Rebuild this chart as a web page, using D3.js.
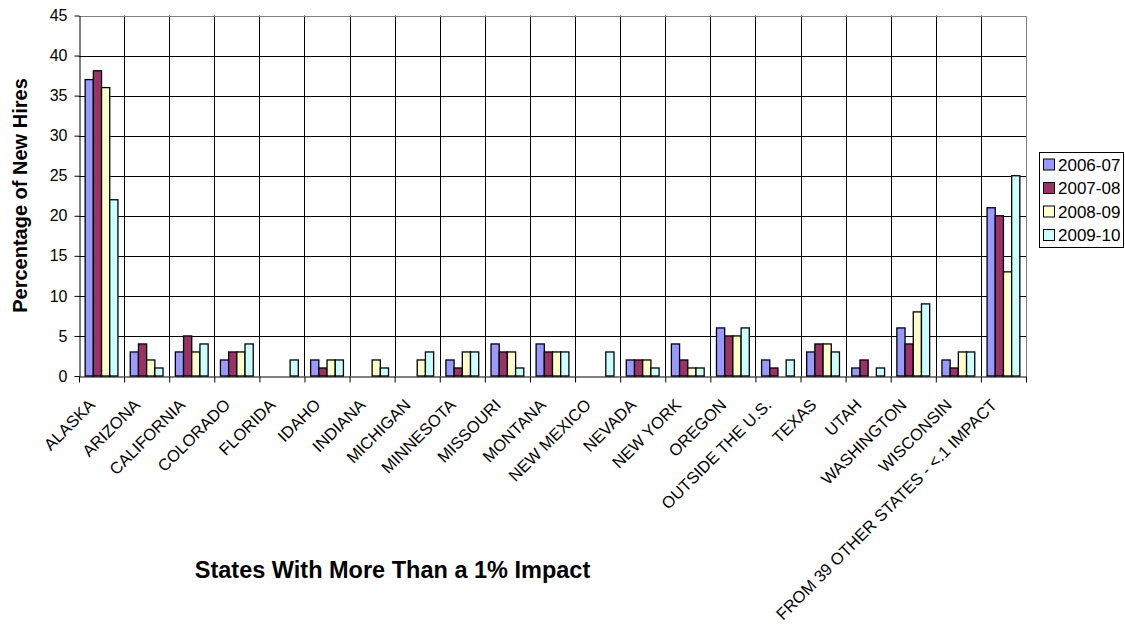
<!DOCTYPE html>
<html>
<head>
<meta charset="utf-8">
<script src="https://cdn.jsdelivr.net/npm/d3@7"></script>
<style>
  body { margin: 0; background: #fff; }
  svg { display: block; font-family: "Liberation Sans", Arial, sans-serif; }
</style>
</head>
<body>
<svg id="chart" width="1125" height="626"></svg>
<script>
// States (and the remainder group) shown along the category axis
const categories = [
  "ALASKA", "ARIZONA", "CALIFORNIA", "COLORADO", "FLORIDA", "IDAHO", "INDIANA",
  "MICHIGAN", "MINNESOTA", "MISSOURI", "MONTANA", "NEW MEXICO", "NEVADA",
  "NEW YORK", "OREGON", "OUTSIDE THE U.S.", "TEXAS", "UTAH", "WASHINGTON",
  "WISCONSIN", "FROM 39 OTHER STATES - <.1 IMPACT"
];
const years = ["2006-07", "2007-08", "2008-09", "2009-10"];

// Percentage of new hires per school year
const hires0607 = [37, 3, 3, 2, 0, 2, 0, 0, 2, 4, 4, 0, 2, 4, 6, 2, 3, 1, 6, 2, 21];
const hires0708 = [38.1, 4, 5, 3, 0, 1, 0, 0, 1, 3, 3, 0, 2, 2, 5, 1, 4, 2, 4, 1, 20];
const hires0809 = [36, 2, 3, 3, 0, 2, 2, 2, 3, 3, 3, 0, 2, 1, 5, 0, 4, 0, 8, 3, 13];
const hires0910 = [22, 1, 4, 4, 2, 2, 1, 3, 3, 1, 3, 3, 1, 1, 6, 2, 3, 1, 9, 3, 25];

const yTicks = [0, 5, 10, 15, 20, 25, 30, 35, 40, 45];
const colors = ["#9999FF", "#993366", "#FFFFCC", "#CCFFFF"];

const seriesValues = [hires0607, hires0708, hires0809, hires0910];

const svg = d3.select("#chart");
const plotLeft = 79, plotRight = 1026, plotTop = 15.5, plotBottom = 376;

const x = d3.scaleBand().domain(categories).range([plotLeft, plotRight]).padding(0);
const xEdge = d3.scaleLinear().domain([0, categories.length]).range([plotLeft, plotRight]);
const xInner = d3.scaleBand().domain(years).range([0, x.bandwidth()])
  .paddingInner(0).paddingOuter(0.75);
const y = d3.scaleLinear().domain([0, 45]).range([plotBottom, plotTop]);
const color = d3.scaleOrdinal().domain(years).range(colors);

// Horizontal gridlines
svg.append("g")
  .selectAll("line")
  .data(yTicks.filter(t => t > 0 && t < 45))
  .join("line")
  .attr("x1", plotLeft).attr("x2", plotRight)
  .attr("y1", d => Math.round(y(d)) + 0.5).attr("y2", d => Math.round(y(d)) + 0.5)
  .attr("stroke", "#000").attr("stroke-width", 1);

// Vertical gridlines between categories
svg.append("g")
  .selectAll("line")
  .data(d3.range(1, categories.length))
  .join("line")
  .attr("x1", d => Math.round(xEdge(d)) + 0.5).attr("x2", d => Math.round(xEdge(d)) + 0.5)
  .attr("y1", plotTop).attr("y2", plotBottom)
  .attr("stroke", "#000").attr("stroke-width", 1);

// Plot area border (top and right)
svg.append("path")
  .attr("d", `M${plotLeft},${Math.round(y(45)) + 0.5}H${Math.round(plotRight) + 0.5}V${plotBottom}`)
  .attr("fill", "none").attr("stroke", "#808080").attr("stroke-width", 1);

// Bars
const rows = categories.map((c, i) => ({
  cat: c,
  vals: years.map((yr, k) => ({ yr, v: seriesValues[k][i] }))
}));

svg.append("g")
  .selectAll("g")
  .data(rows)
  .join("g")
  .attr("transform", d => `translate(${x(d.cat)},0)`)
  .selectAll("rect")
  .data(d => d.vals.filter(e => e.v > 0))
  .join("rect")
  .attr("x", d => xInner(d.yr))
  .attr("width", xInner.bandwidth())
  .attr("y", d => y(d.v))
  .attr("height", d => y(0) - y(d.v))
  .attr("fill", d => color(d.yr))
  .attr("stroke", "#000")
  .attr("stroke-width", 1.3);

// Y axis
const yAxis = svg.append("g")
  .attr("transform", `translate(${plotLeft + 0.5},0)`)
  .call(d3.axisLeft(y).tickValues(yTicks).tickSize(5).tickPadding(7).tickSizeOuter(0));
yAxis.select(".domain").attr("stroke", "#000");
yAxis.selectAll(".tick line").attr("stroke", "#000");
yAxis.selectAll("text")
  .attr("font-size", 16).attr("fill", "#000")
  .attr("font-family", "Liberation Sans, Arial, sans-serif");

// X axis with tick marks on the category boundaries
const xAxis = svg.append("g")
  .attr("transform", `translate(0,${plotBottom + 0.5})`)
  .call(d3.axisBottom(xEdge).tickValues(d3.range(categories.length + 1))
    .tickFormat("").tickSize(6).tickSizeOuter(0));
xAxis.select(".domain").attr("stroke", "#000");
xAxis.selectAll(".tick line").attr("stroke", "#000");

// Rotated category labels
svg.append("g")
  .selectAll("text")
  .data(categories)
  .join("text")
  .attr("transform", d => `translate(${x(d) + x.bandwidth() / 2 - 5.5},406) rotate(-45)`)
  .attr("text-anchor", "end")
  .attr("font-size", 16.5)
  .attr("fill", "#000")
  .text(d => d);

// Axis titles
svg.append("text")
  .attr("transform", "translate(27,195.5) rotate(-90)")
  .attr("text-anchor", "middle")
  .attr("font-size", 20).attr("font-weight", "bold")
  .text("Percentage of New Hires");

svg.append("text")
  .attr("x", 392.5).attr("y", 578)
  .attr("text-anchor", "middle")
  .attr("font-size", 23.5).attr("font-weight", "bold")
  .text("States With More Than a 1% Impact");

// Legend
const legend = svg.append("g");
legend.append("rect")
  .attr("x", 1039.5).attr("y", 152.5).attr("width", 84).attr("height", 95)
  .attr("fill", "#fff").attr("stroke", "#000").attr("stroke-width", 1);
const item = legend.selectAll("g.item")
  .data(years)
  .join("g")
  .attr("class", "item")
  .attr("transform", (d, i) => `translate(1043,${164.5 + i * 23.5})`);
item.append("rect")
  .attr("x", 0.5).attr("y", -5.5).attr("width", 11).attr("height", 11)
  .attr("fill", d => color(d)).attr("stroke", "#000").attr("stroke-width", 1);
item.append("text")
  .attr("x", 15).attr("y", 6)
  .attr("font-size", 17).attr("fill", "#000")
  .text(d => d);
</script>
</body>
</html>
